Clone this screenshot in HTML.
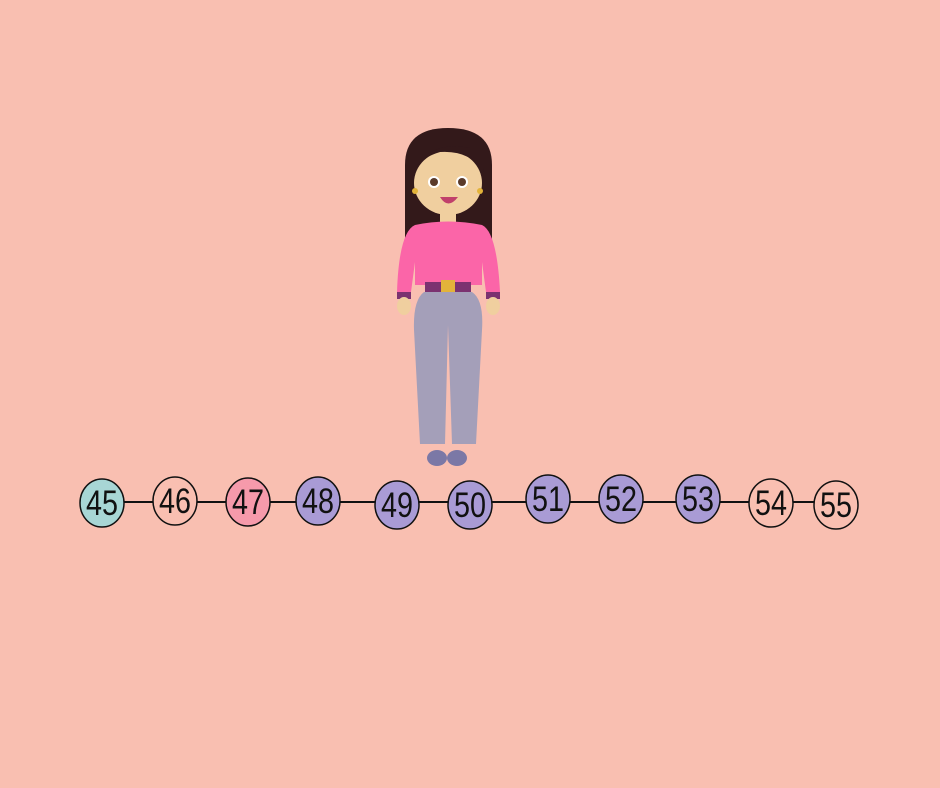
<!DOCTYPE html>
<html><head><meta charset="utf-8"><style>
body{margin:0;width:940px;height:788px;background:#f9bfb1;overflow:hidden}
svg{position:absolute;left:0;top:0}
</style></head><body>
<svg width="940" height="788">
<g>
<path d="M405,245 L405,165 Q405,128 448,128 Q492,128 492,165 L492,245 Z" fill="#33191a"/>
<rect x="440" y="205" width="16" height="22" fill="#f0cf9f"/>
<ellipse cx="448" cy="183" rx="34" ry="32" fill="#f0cf9f"/>
<path d="M414,170 Q430,140 470,148 Q482,160 484,172 Q470,150 440,152 Q420,158 414,170Z" fill="#33191a"/>
<circle cx="434" cy="182" r="6" fill="#fff"/><circle cx="434" cy="182" r="4" fill="#5a3a2a"/>
<circle cx="462" cy="182" r="6" fill="#fff"/><circle cx="462" cy="182" r="4" fill="#5a3a2a"/>
<path d="M440,197 Q448,210 458,197 Z" fill="#c0406b"/>
<circle cx="415" cy="191" r="3" fill="#e3b33a"/><circle cx="480" cy="191" r="3" fill="#e3b33a"/>
<path d="M415,225 Q448,218 482,225 Q497,232 500,292 L486,292 L482,262 L482,285 L415,285 L415,262 L411,292 L397,292 Q399,232 415,225Z" fill="#fb65a8"/>
<rect x="397" y="292" width="14" height="7" fill="#7b3270"/><rect x="486" y="292" width="14" height="7" fill="#7b3270"/>
<ellipse cx="404" cy="306" rx="7" ry="9" fill="#f0cf9f"/><ellipse cx="493" cy="306" rx="7" ry="9" fill="#f0cf9f"/>
<rect x="425" y="282" width="46" height="10" fill="#7b3270"/>
<rect x="441" y="280" width="14" height="13" fill="#e3b33a"/>
<path d="M424,292 L472,292 Q484,300 482,330 L476,444 L452,444 L448,325 L445,444 L420,444 L414,330 Q413,300 424,292Z" fill="#a49fb9"/>
<ellipse cx="437" cy="458" rx="10" ry="8" fill="#7b78a6"/><ellipse cx="457" cy="458" rx="10" ry="8" fill="#7b78a6"/>
</g>
<line x1="100" y1="502" x2="836" y2="502" stroke="#111" stroke-width="2"/>
<g id="pts" font-family="Liberation Sans, sans-serif"></g>
</svg>
<script>
const labels=[45,46,47,48,49,50,51,52,53,54,55];
const cols=["#a8d6d5","#f9bfb1","#f69aab","#a99bd5","#a99bd5","#a99bd5","#a99bd5","#a99bd5","#a99bd5","#f9bfb1","#f9bfb1"];
const cx=[102,175,248,318,397,470,548,621,698,771,836];
const cy=[503,501,502,501,505,505,499,499,499,503,505];
const g=document.getElementById('pts');
const ns="http://www.w3.org/2000/svg";
labels.forEach((l,i)=>{
 const c=document.createElementNS(ns,'ellipse');
 c.setAttribute('cx',cx[i]);c.setAttribute('cy',cy[i]);c.setAttribute('rx',22);c.setAttribute('ry',24);
 c.setAttribute('fill',cols[i]);c.setAttribute('stroke','#111');c.setAttribute('stroke-width','1.5');
 
 
 g.appendChild(c);
 const t=document.createElementNS(ns,'text');
 t.setAttribute('x',cx[i]);t.setAttribute('y',cy[i]+12);t.setAttribute('text-anchor','middle');
 t.setAttribute('font-size','35');t.setAttribute('fill','#111');t.setAttribute('textLength','32');t.setAttribute('lengthAdjust','spacingAndGlyphs');
 t.textContent=l;
 
 
 g.appendChild(t);
});
</script>
</body></html>
